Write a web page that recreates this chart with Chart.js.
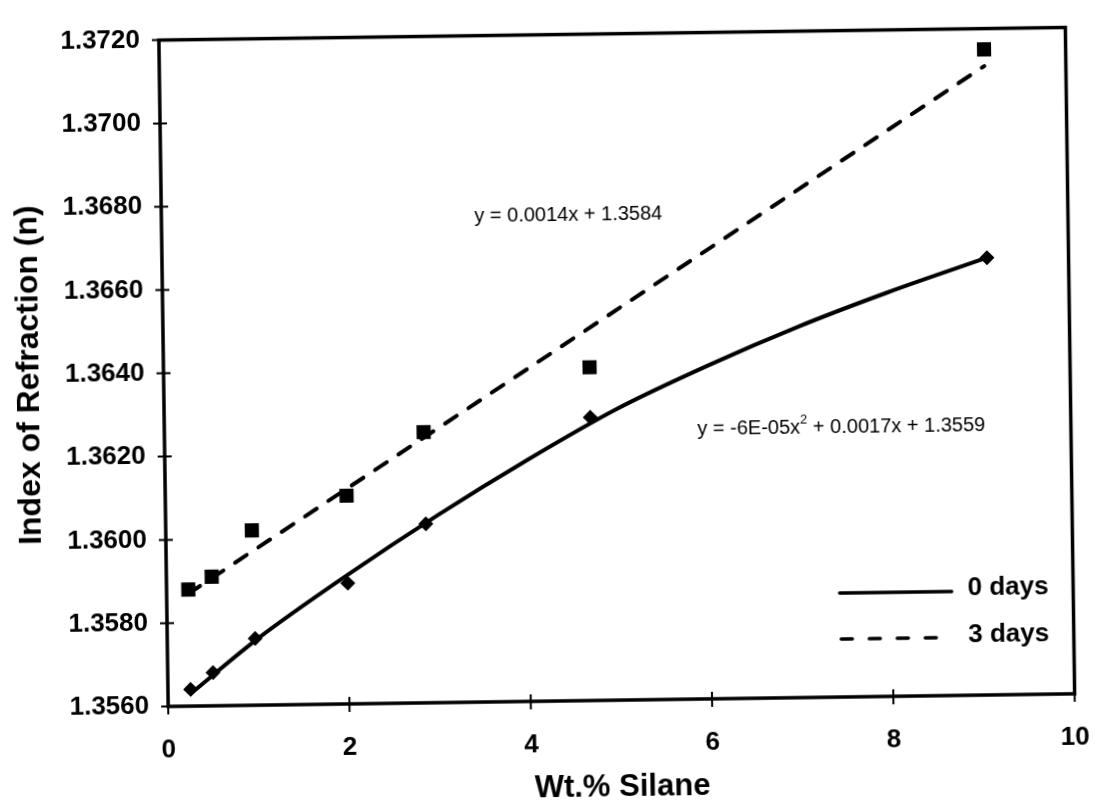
<!DOCTYPE html>
<html>
<head>
<meta charset="utf-8">
<title>Index of Refraction vs Wt.% Silane</title>
<script src="https://cdn.jsdelivr.net/npm/chart.js@4.4.0/dist/chart.umd.min.js"></script>
<style>
  html, body { margin: 0; padding: 0; background: #fff; overflow: hidden; }
  #wrap { width: 1113px; height: 808px; }
  /* the scanned original sits slightly tilted */
  #chart { transform: rotate(-0.8deg); transform-origin: 50% 50%; }
</style>
</head>
<body>
<div id="wrap"><canvas id="chart" width="1113" height="808"></canvas></div>
<script>
const silane0 = [0.25, 0.5, 0.97, 2.0, 2.87, 4.7, 9.1];
const index0  = [1.3564, 1.3568, 1.3576, 1.3589, 1.3603, 1.3628, 1.3665];
const silane3 = [0.24, 0.5, 0.95, 2.0, 2.86, 4.7, 9.1];
const index3  = [1.3588, 1.3591, 1.3602, 1.3610, 1.3625, 1.3640, 1.3715];

// Trend lines as drawn in the picture
const trend0X = [0.25, 1, 2, 3, 4, 5, 6, 7, 8, 9.1];
const trend0Y = [1.3563, 1.3576, 1.3591, 1.3605, 1.3618, 1.3630, 1.3640, 1.3649, 1.3657, 1.3665];
const trend3X = [0.24, 9.1];
const trend3Y = [1.3587, 1.3711];

const seriesNames = ['0 days', '3 days'];
const eqLinear = 'y = 0.0014x + 1.3584';
const eqQuadParts = ['y = -6E-05x', '2', ' + 0.0017x + 1.3559'];

const FONT = '"Liberation Sans", Arial, sans-serif';

function toPoints(xs, ys) {
  return xs.map((x, i) => ({ x: x, y: ys[i] }));
}

// Frame around the plot and the crossing tick marks
const framePlugin = {
  id: 'frame',
  afterDatasetsDraw(chart) {
    const ctx = chart.ctx;
    const a = chart.chartArea;
    const xs = chart.scales.x;
    const ys = chart.scales.y;
    ctx.save();
    ctx.strokeStyle = '#000';
    ctx.lineWidth = 3.5;
    ctx.strokeRect(a.left, a.top, a.right - a.left, a.bottom - a.top);

    ctx.lineWidth = 2;
    ctx.beginPath();
    xs.ticks.forEach(t => {
      const px = xs.getPixelForValue(t.value);
      ctx.moveTo(px, a.bottom - 7);
      ctx.lineTo(px, a.bottom + 8);
    });
    ys.ticks.forEach(t => {
      const py = ys.getPixelForValue(t.value);
      ctx.moveTo(a.left - 7, py);
      ctx.lineTo(a.left + 7, py);
    });
    ctx.stroke();
    ctx.restore();
  }
};

// Legend inside the plot plus the two fit equations
const notesPlugin = {
  id: 'notes',
  afterDraw(chart) {
    const ctx = chart.ctx;
    ctx.save();
    ctx.fillStyle = '#000';
    ctx.strokeStyle = '#000';
    ctx.lineWidth = 3.5;
    ctx.lineCap = 'round';

    // legend
    ctx.beginPath();
    ctx.moveTo(837, 597);
    ctx.lineTo(949, 597);
    ctx.stroke();
    ctx.setLineDash([11, 17]);
    ctx.beginPath();
    ctx.moveTo(838, 643);
    ctx.lineTo(941, 643);
    ctx.stroke();
    ctx.setLineDash([]);

    ctx.font = 'bold 26px ' + FONT;
    ctx.textBaseline = 'middle';
    ctx.textAlign = 'left';
    ctx.fillText(seriesNames[0], 965, 594);
    ctx.fillText(seriesNames[1], 965, 641);

    // equations
    ctx.font = '20px ' + FONT;
    ctx.fillText(eqLinear, 477, 215);

    let x = 697;
    ctx.fillText(eqQuadParts[0], x, 431);
    x += ctx.measureText(eqQuadParts[0]).width;
    ctx.font = '13px ' + FONT;
    ctx.fillText(eqQuadParts[1], x, 423);
    x += ctx.measureText(eqQuadParts[1]).width;
    ctx.font = '20px ' + FONT;
    ctx.fillText(eqQuadParts[2], x, 431);
    ctx.restore();
  }
};

const ctx = document.getElementById('chart').getContext('2d');
const chart = new Chart(ctx, {
  type: 'scatter',
  data: {
    datasets: [
      {
        label: 'fit 0 days',
        data: toPoints(trend0X, trend0Y),
        showLine: true,
        borderColor: '#000',
        borderWidth: 4,
        pointRadius: 0,
        cubicInterpolationMode: 'monotone',
        fill: false
      },
      {
        label: 'fit 3 days',
        data: toPoints(trend3X, trend3Y),
        showLine: true,
        borderColor: '#000',
        borderWidth: 4,
        borderDash: [14, 14],
        borderCapStyle: 'round',
        pointRadius: 0,
        fill: false
      },
      {
        label: seriesNames[0],
        data: toPoints(silane0, index0),
        pointStyle: 'rectRot',
        pointRadius: 7.5,
        backgroundColor: '#000',
        borderColor: '#000',
        borderWidth: 0
      },
      {
        label: seriesNames[1],
        data: toPoints(silane3, index3),
        pointStyle: 'rect',
        pointRadius: 10,
        backgroundColor: '#000',
        borderColor: '#000',
        borderWidth: 0
      }
    ]
  },
  options: {
    responsive: false,
    animation: false,
    layout: { autoPadding: false, padding: { top: 18, right: 24, bottom: 0, left: 0 } },
    plugins: {
      legend: { display: false },
      tooltip: { enabled: false }
    },
    scales: {
      x: {
        type: 'linear',
        min: 0,
        max: 10,
        ticks: {
          stepSize: 2,
          padding: 28,
          color: '#000',
          font: { family: FONT, size: 26, weight: 'bold' }
        },
        grid: { display: false, drawTicks: false },
        border: { display: false },
        title: {
          display: true,
          text: 'Wt.% Silane',
          color: '#000',
          font: { family: FONT, size: 31, weight: 'bold' },
          padding: { top: 0, bottom: 1 }
        },
        afterFit: function(scale) { scale.height = 107; }
      },
      y: {
        type: 'linear',
        min: 1.356,
        max: 1.372,
        ticks: {
          stepSize: 0.002,
          padding: 19,
          color: '#000',
          font: { family: FONT, size: 26, weight: 'bold' },
          callback: function(v) { return Number(v).toFixed(4); }
        },
        grid: { display: false, drawTicks: false },
        border: { display: false },
        title: {
          display: true,
          text: 'Index of Refraction (n)',
          color: '#000',
          font: { family: FONT, size: 32, weight: 'bold' },
          padding: { top: 11, bottom: 0 }
        },
        afterFit: function(scale) { scale.width = 164; }
      }
    }
  },
  plugins: [framePlugin, notesPlugin]
});
</script>
</body>
</html>
